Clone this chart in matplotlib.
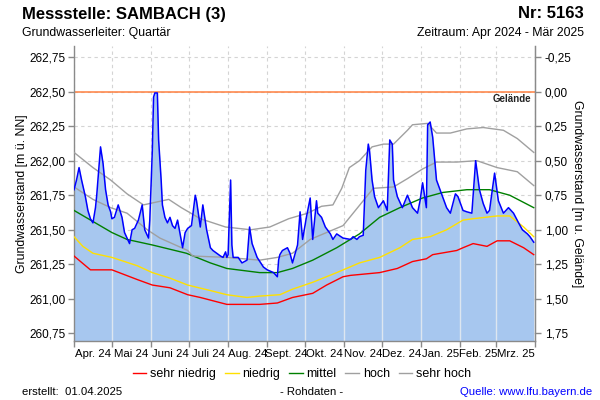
import matplotlib
matplotlib.use('Agg')
import matplotlib.pyplot as plt
import numpy as np
import pandas as pd
from matplotlib.lines import Line2D

plt.rcParams['font.family'] = ['Liberation Sans', 'DejaVu Sans']

# ---------------- data ----------------
start_date = '2024-04-01'
gelaende = 262.50

# measured groundwater level (day offset from 2024-04-01, m ü. NN)
level_days = [0, 2, 4, 6, 9, 11, 13, 15, 17, 18, 21, 23, 25, 27, 29, 30, 32, 35, 38, 40,
              44, 46, 48, 51, 54, 56, 59, 60, 62, 63, 64, 66, 67, 69, 70, 72, 74, 76, 78, 80,
              82, 84, 86, 88, 90, 93, 96, 97, 100, 102, 105, 108, 110, 113, 116, 118, 120, 121, 122, 124,
              125, 126, 130, 133, 137, 139, 141, 145, 150, 153, 158, 161, 162, 163, 165, 169, 171, 173, 177, 179,
              181, 184, 187, 189, 192, 193, 196, 199, 203, 205, 208, 213, 219, 221, 224, 226, 229, 231, 233, 234,
              236, 238, 241, 245, 248, 250, 252, 253, 256, 260, 264, 268, 272, 274, 276, 279, 280, 282, 284, 287,
              291, 295, 298, 302, 304, 308, 311, 315, 318, 321, 324, 327, 329, 333, 336, 340, 344, 348, 352, 355,
              359, 361, 364]
level_values = [261.79, 261.86, 261.95, 261.86, 261.74, 261.64, 261.58, 261.55, 261.66, 261.75,
                262.10, 261.98, 261.79, 261.68, 261.63, 261.58, 261.59, 261.68, 261.59, 261.48,
                261.40, 261.50, 261.51, 261.57, 261.68, 261.50, 261.44, 261.57, 262.07, 262.46,
                262.49, 262.49, 262.15, 261.86, 261.68, 261.59, 261.55, 261.59, 261.53, 261.51,
                261.57, 261.47, 261.37, 261.48, 261.51, 261.53, 261.75, 261.71, 261.52, 261.68,
                261.50, 261.37, 261.35, 261.33, 261.31, 261.30, 261.34, 261.30, 261.32, 261.86,
                261.39, 261.30, 261.30, 261.26, 261.28, 261.52, 261.40, 261.30, 261.23, 261.21,
                261.19, 261.16, 261.28, 261.32, 261.35, 261.37, 261.33, 261.26, 261.39, 261.63,
                261.43, 261.59, 261.73, 261.43, 261.71, 261.62, 261.59, 261.52, 261.47, 261.43,
                261.47, 261.44, 261.43, 261.45, 261.43, 261.45, 261.46, 261.93, 262.12, 262.07,
                261.86, 261.74, 261.66, 261.71, 261.64, 262.15, 262.12, 261.86, 261.74, 261.66,
                261.75, 261.66, 261.62, 261.71, 261.84, 261.66, 262.26, 262.28, 262.17, 261.86,
                261.76, 261.66, 261.62, 261.76, 261.74, 261.64, 261.63, 261.62, 262.00, 261.79,
                261.69, 261.62, 261.64, 261.91, 261.71, 261.62, 261.66, 261.62, 261.55, 261.50,
                261.47, 261.45, 261.41]

# long-term statistics
sehr_niedrig_days = [0, 13, 30, 50, 62, 76, 90, 100, 121, 147, 161, 173, 189, 200, 213, 219, 242,
                     256, 268, 279, 284, 303, 308, 316, 327, 335, 345, 356, 364]
sehr_niedrig_values = [261.31, 261.21, 261.21, 261.14, 261.10, 261.08, 261.03, 261.01, 260.96, 260.96,
                       260.97, 261.01, 261.04, 261.10, 261.16, 261.17, 261.19, 261.22, 261.27, 261.29,
                       261.32, 261.35, 261.37, 261.40, 261.38, 261.42, 261.42, 261.37, 261.32]

niedrig_days = [0, 7, 15, 30, 50, 62, 76, 90, 108, 121, 137, 147, 163, 173, 189, 208, 226, 242,
                258, 268, 282, 295, 308, 316, 335, 345, 356, 364]
niedrig_values = [261.45, 261.38, 261.33, 261.30, 261.24, 261.19, 261.15, 261.10, 261.06, 261.03,
                  261.01, 261.02, 261.03, 261.07, 261.12, 261.19, 261.26, 261.30, 261.37, 261.43,
                  261.45, 261.50, 261.57, 261.58, 261.60, 261.60, 261.52, 261.45]

mittel_days = [0, 15, 30, 42, 62, 89, 108, 121, 147, 161, 173, 189, 208, 226, 242, 258, 276,
               292, 311, 329, 345, 364]
mittel_values = [261.64, 261.56, 261.48, 261.43, 261.39, 261.33, 261.26, 261.22, 261.19, 261.19,
                 261.22, 261.28, 261.37, 261.47, 261.59, 261.66, 261.73, 261.77, 261.79, 261.79,
                 261.75, 261.66]

hoch_days = [0, 15, 29, 42, 58, 68, 90, 94, 121, 147, 161, 173, 187, 200, 213, 229, 237, 253,
             264, 276, 287, 303, 319, 335, 351, 364]
hoch_values = [261.81, 261.72, 261.66, 261.62, 261.50, 261.44, 261.35, 261.31, 261.30, 261.28,
               261.30, 261.33, 261.43, 261.48, 261.53, 261.71, 261.80, 261.81, 261.87, 261.94,
               261.99, 261.99, 262.00, 261.95, 261.92, 261.82]

sehr_hoch_days = [0, 15, 29, 42, 55, 65, 75, 85, 100, 120, 140, 155, 170, 185, 196, 205, 212,
                  218, 226, 236, 245, 253, 264, 268, 280, 287, 298, 311, 324, 340, 351, 364]
sehr_hoch_values = [262.06, 261.95, 261.86, 261.76, 261.68, 261.70, 261.72, 261.66, 261.58, 261.52,
                    261.50, 261.52, 261.58, 261.62, 261.67, 261.68, 261.80, 261.95, 262.00, 262.10,
                    262.12, 262.12, 262.22, 262.26, 262.27, 262.20, 262.20, 262.23, 262.24, 262.22,
                    262.16, 262.06]

month_labels = ['Apr. 24', 'Mai 24', 'Juni 24', 'Juli 24', 'Aug. 24', 'Sept. 24', 'Okt. 24',
                'Nov. 24', 'Dez. 24', 'Jan. 25', 'Feb. 25', 'Mrz. 25']
left_ticks = [260.75, 261.00, 261.25, 261.50, 261.75, 262.00, 262.25, 262.50, 262.75]
right_ticks = [-0.25, 0.00, 0.25, 0.50, 0.75, 1.00, 1.25, 1.50, 1.75]

# ---------------- figure ----------------
W, H = 600, 400
fig = plt.figure(figsize=(6, 4), dpi=100)
L, R, T, B = 74, 535, 46, 341
ax = fig.add_axes([L / W, 1 - B / H, (R - L) / W, (B - T) / H])

ylo, yhi = 260.695, 262.83
start = pd.Timestamp(start_date)
month_starts = pd.date_range(start, periods=13, freq='MS')
mpos = np.array([(m - start).days for m in month_starts], dtype=float)
mmid = (mpos[:-1] + mpos[1:]) / 2

ax.set_xlim(0, 365)
ax.set_ylim(ylo, yhi)

gridc = '#d4d4d4'
ax.set_xticks(mpos)
ax.set_xticklabels([])
ax.set_xticks(mmid, minor=True)
ax.set_xticklabels(month_labels, minor=True)
ax.set_yticks(left_ticks)
ax.set_yticklabels([f'{v:.2f}'.replace('.', ',') for v in left_ticks])
ax.grid(True, which='major', color=gridc, ls=(0, (3, 3)), lw=0.8, zorder=0)
ax.set_axisbelow(True)

spc = '#8a8a8a'
ax.spines['top'].set_visible(False)
for s in ['left', 'right', 'bottom']:
    ax.spines[s].set_color(spc)
    ax.spines[s].set_linewidth(1.0)
ax.tick_params(axis='x', which='major', length=4, color=spc, width=1)
ax.tick_params(axis='x', which='minor', length=0, pad=6, labelsize=8.2, labelcolor='#000000')
ax.tick_params(axis='y', which='major', length=4, color=spc, width=1, labelsize=8.5, pad=2)

# fill under measured level
ax.fill_between(level_days, ylo, level_values, color='#a7c7ef', lw=0, zorder=1)
# light solid month lines inside the filled area
for p in mpos[1:-1]:
    v = np.interp(p, level_days, level_values)
    ax.vlines(p, ylo, v, color='#dde6f0', lw=1, zorder=1.5)

ax.axhline(gelaende, color='#ff8040', lw=1.1, zorder=2)
ax.text(362, gelaende - 0.055, 'Gelände', ha='right', va='center', fontsize=7,
        fontweight='bold', color='#222222', zorder=5)

ax.plot(sehr_niedrig_days, sehr_niedrig_values, color='#ff0000', lw=1, zorder=3)
ax.plot(niedrig_days, niedrig_values, color='#ffe000', lw=1, zorder=3)
ax.plot(mittel_days, mittel_values, color='#008000', lw=1, zorder=3)
ax.plot(hoch_days, hoch_values, color='#a0a0a0', lw=1, zorder=3)
ax.plot(sehr_hoch_days, sehr_hoch_values, color='#a0a0a0', lw=1, zorder=3)
ax.plot(level_days, level_values, color='#0000ff', lw=1.1, zorder=4)

ax.set_ylabel('Grundwasserstand [m ü. NN]', fontsize=8.8, labelpad=1)

ax2 = ax.twinx()
ax2.set_ylim(gelaende - ylo, gelaende - yhi)
ax2.set_yticks(right_ticks)
ax2.set_yticklabels([f'{v:.2f}'.replace('.', ',') for v in right_ticks])
for s in ['top', 'left', 'bottom']:
    ax2.spines[s].set_visible(False)
ax2.spines['right'].set_color(spc)
ax2.tick_params(axis='y', length=4, color=spc, width=1, labelsize=8.5, pad=3)
ax2.set_ylabel('Grundwasserstand [m u. Gelände]', fontsize=8.8, rotation=-90, labelpad=8)

# titles
fig.text(22 / W, 1 - 14 / H, 'Messstelle: SAMBACH (3)', fontsize=12, fontweight='bold',
         ha='left', va='center')
fig.text(22 / W, 1 - 33 / H, 'Grundwasserleiter: Quartär', fontsize=8.8, ha='left', va='center')
fig.text(584 / W, 1 - 14 / H, 'Nr: 5163', fontsize=12, fontweight='bold', ha='right', va='center')
fig.text(584 / W, 1 - 33 / H, 'Zeitraum: Apr 2024 - Mär 2025', fontsize=8.8, ha='right', va='center')

# legend
handles = [Line2D([], [], color='#ff0000', lw=1),
           Line2D([], [], color='#ffe000', lw=1),
           Line2D([], [], color='#008000', lw=1),
           Line2D([], [], color='#a0a0a0', lw=1),
           Line2D([], [], color='#a0a0a0', lw=1)]
names = ['sehr niedrig', 'niedrig', 'mittel', 'hoch', 'sehr hoch']
fig.legend(handles, names, loc='center', bbox_to_anchor=(302 / W, 1 - 374 / H), ncol=5,
           frameon=False, fontsize=9, handlelength=1.1, handletextpad=0.3, columnspacing=0.7)

# footer
fig.text(22 / W, 1 - 392 / H, 'erstellt:  01.04.2025', fontsize=8.2, ha='left', va='center')
fig.text(312 / W, 1 - 392 / H, '- Rohdaten -', fontsize=8.2, ha='center', va='center')
fig.text(592 / W, 1 - 392 / H, 'Quelle: www.lfu.bayern.de', fontsize=8.2, ha='right',
         va='center', color='#0000ff')

fig.savefig('out.png', dpi=100)
